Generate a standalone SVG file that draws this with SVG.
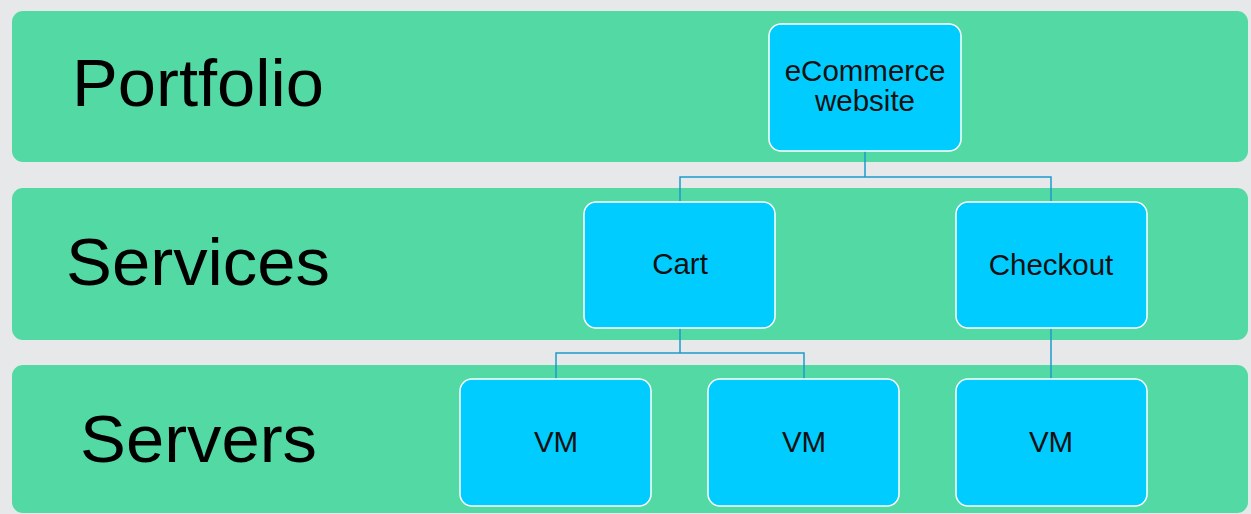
<svg xmlns="http://www.w3.org/2000/svg" width="1251" height="514" viewBox="0 0 1251 514">
  <style>
    .band { fill: #53D9A4; }
    .layer { font-family: "Liberation Sans", Arial, sans-serif; font-size: 67px; fill: #000; }
    .node rect { fill: #00CCFF; stroke: #FFFFFF; stroke-width: 1.5; }
    .node text { font-family: "Liberation Sans", Arial, sans-serif; font-size: 29.5px; fill: #111; text-anchor: middle; }
    .conn { fill: none; stroke: #1E9BCB; stroke-width: 1.5; }
  </style>
  <rect x="0" y="0" width="1251" height="514" fill="#E7E8EA"/>

  <!-- layer bands -->
  <g id="band-portfolio">
    <rect class="band" x="12" y="11" width="1236" height="151" rx="11"/>
    <text class="layer" x="72" y="106" textLength="252" lengthAdjust="spacingAndGlyphs">Portfolio</text>
  </g>
  <g id="band-services">
    <rect class="band" x="12" y="188" width="1236" height="152" rx="11"/>
    <text class="layer" x="66" y="285" textLength="264" lengthAdjust="spacingAndGlyphs">Services</text>
  </g>
  <g id="band-servers">
    <rect class="band" x="12" y="365" width="1236" height="148" rx="11"/>
    <text class="layer" x="80" y="462" textLength="237" lengthAdjust="spacingAndGlyphs">Servers</text>
  </g>

  <!-- connectors -->
  <g id="connectors">
    <path class="conn" d="M865 151 V177 M680 202 V177 H1051 V202"/>
    <path class="conn" d="M680 328 V353 M556 379 V353 H804 V379"/>
    <path class="conn" d="M1051 328 V379"/>
  </g>

  <!-- nodes -->
  <g id="ecommerce" class="node">
    <rect x="769" y="24" width="192" height="127" rx="12"/>
    <text x="865" y="81">eCommerce</text>
    <text x="865" y="111">website</text>
  </g>
  <g id="cart" class="node">
    <rect x="584" y="202" width="191" height="126" rx="12"/>
    <text x="680" y="274">Cart</text>
  </g>
  <g id="checkout" class="node">
    <rect x="956" y="202" width="191" height="126" rx="12"/>
    <text x="1051" y="275">Checkout</text>
  </g>
  <g id="vm1" class="node">
    <rect x="460" y="379" width="191" height="127" rx="12"/>
    <text x="556" y="452">VM</text>
  </g>
  <g id="vm2" class="node">
    <rect x="708" y="379" width="191" height="127" rx="12"/>
    <text x="804" y="452">VM</text>
  </g>
  <g id="vm3" class="node">
    <rect x="956" y="379" width="191" height="127" rx="12"/>
    <text x="1051" y="452">VM</text>
  </g>
</svg>
